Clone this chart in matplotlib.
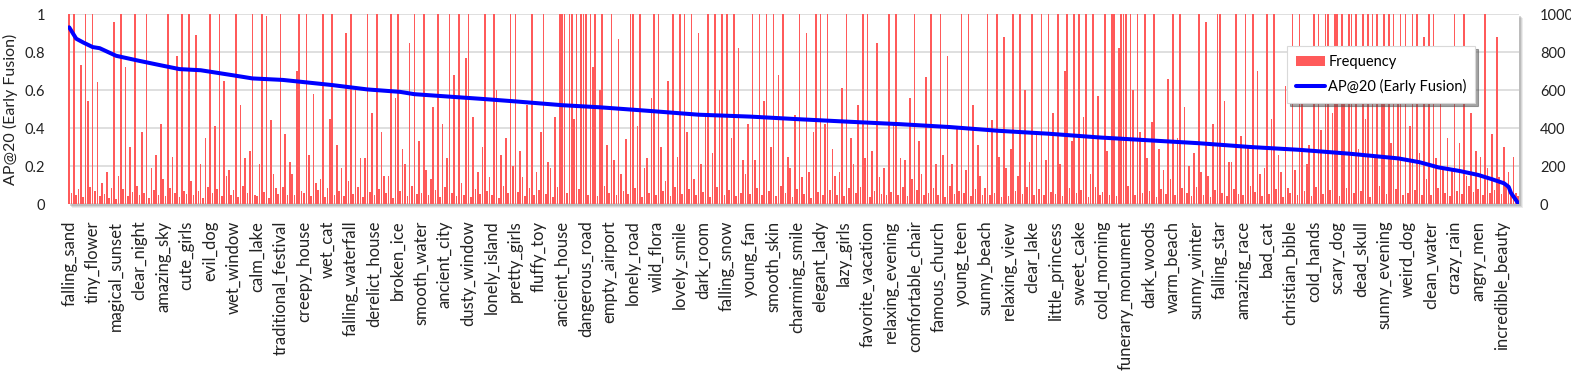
import matplotlib
matplotlib.use("Agg")
import matplotlib.pyplot as plt
from matplotlib.patches import Rectangle
import numpy as np

plt.rcParams['font.family'] = ['Lato', 'DejaVu Sans']

# frequency of each concept (right axis), sorted by AP@20
freq = [
    1400, 60, 1200, 45, 80, 730, 35, 1100, 540, 90,
    1300, 70, 640, 40, 110, 55, 170, 30, 85, 960,
    25, 150, 1250, 80, 720, 40, 300, 65, 1050, 95,
    45, 380, 60, 1150, 30, 190, 75, 260, 50, 420,
    130, 40, 1300, 85, 250, 60, 780, 35, 1020, 70,
    55, 1600, 120, 45, 890, 70, 210, 30, 350, 90,
    1200, 60, 410, 80, 1500, 40, 650, 150, 180, 50,
    75, 1300, 35, 520, 95, 240, 60, 280, 1000, 45,
    40, 210, 1150, 65, 990, 30, 440, 160, 85, 55,
    1100, 90, 370, 50, 220, 160, 45, 700, 1050, 70,
    60, 1300, 260, 40, 580, 110, 75, 130, 1200, 35,
    85, 450, 1100, 50, 310, 70, 190, 40, 900, 120,
    1000, 55, 620, 90, 240, 35, 240, 1300, 65, 480,
    45, 1200, 80, 380, 150, 60, 150, 1400, 30, 560,
    1100, 70, 290, 210, 40, 850, 95, 1000, 55, 330,
    60, 1300, 180, 45, 130, 510, 75, 1200, 35, 420,
    90, 240, 1000, 60, 680, 40, 1350, 110, 50, 770,
    1250, 35, 460, 80, 170, 55, 300, 1000, 70, 140,
    45, 1150, 600, 30, 260, 95, 350, 60, 1050, 200,
    1400, 65, 280, 140, 40, 520, 85, 1200, 50, 170,
    75, 380, 1000, 55, 220, 190, 35, 460, 90, 1150,
    1300, 1200, 60, 1500, 1100, 450, 1350, 80, 1000, 1250,
    1400, 50, 1100, 720, 1300, 40, 600, 1150, 95, 310,
    60, 1050, 230, 45, 870, 160, 70, 340, 55, 1000,
    1300, 85, 410, 1100, 35, 190, 240, 60, 560, 1000,
    45, 1150, 300, 70, 120, 650, 40, 1350, 90, 250,
    1200, 55, 1100, 380, 80, 1300, 130, 45, 900, 210,
    65, 480, 1000, 35, 270, 1150, 90, 600, 1250, 50,
    1100, 75, 350, 1300, 40, 820, 60, 230, 160, 420,
    55, 1200, 230, 85, 1000, 45, 540, 1150, 70, 300,
    1300, 40, 680, 95, 1100, 60, 250, 190, 35, 470,
    80, 1250, 140, 55, 900, 170, 30, 380, 1200, 65,
    1000, 50, 420, 1150, 75, 290, 150, 45, 170, 610,
    40, 1100, 85, 350, 210, 60, 520, 90, 1000, 240,
    1150, 35, 280, 70, 850, 140, 55, 190, 45, 1050,
    65, 420, 1000, 50, 240, 90, 230, 40, 560, 130,
    1250, 75, 330, 160, 45, 670, 60, 1000, 85, 210,
    50, 1150, 260, 35, 780, 95, 210, 55, 400, 70,
    1000, 60, 180, 1200, 40, 520, 80, 310, 150, 45,
    85, 1300, 45, 440, 60, 1050, 250, 35, 880, 190,
    40, 290, 1100, 70, 150, 1250, 55, 600, 90, 220,
    1200, 50, 370, 80, 1000, 45, 230, 1350, 65, 480,
    55, 1100, 210, 40, 700, 1200, 85, 330, 1050, 60,
    1300, 75, 460, 1000, 35, 160, 1150, 90, 570, 45,
    65, 1250, 280, 50, 1100, 1300, 40, 820, 1000, 1200,
    1350, 95, 1100, 600, 45, 1250, 380, 60, 1000, 240,
    70, 430, 1150, 35, 290, 80, 180, 55, 660, 130,
    1000, 45, 350, 1200, 85, 510, 60, 200, 40, 270,
    90, 1300, 170, 50, 960, 150, 35, 420, 75, 1150,
    1100, 60, 540, 40, 220, 220, 80, 1000, 55, 360,
    45, 1200, 300, 95, 1000, 65, 700, 160, 40, 190,
    1150, 55, 450, 1300, 80, 260, 170, 35, 620, 85,
    60, 1100, 180, 45, 1200, 540, 70, 210, 310, 40,
    1300, 90, 1150, 390, 55, 1000, 1250, 75, 480, 1100,
    1200, 40, 1350, 680, 85, 1100, 1000, 60, 1250, 290,
    70, 1150, 450, 1300, 35, 1050, 240, 1200, 95, 560,
    1000, 55, 1250, 320, 1100, 80, 700, 1350, 45, 1050,
    60, 410, 1000, 75, 1200, 270, 50, 880, 130, 1100,
    45, 1300, 240, 85, 560, 190, 60, 350, 40, 190,
    1050, 70, 320, 55, 1200, 150, 95, 480, 65, 280,
    80, 250, 45, 1000, 190, 60, 370, 75, 880, 140,
    55, 300, 90, 170, 45, 250, 60, 40,
]

# AP@20 read at selected concept positions
ap_idx = [0, 1, 3, 6, 10, 13, 20, 30, 39, 47, 56, 70, 78, 91, 98, 112, 127,
          141, 147, 162, 176, 190, 210, 226, 247, 268, 290, 311, 332, 354,
          375, 396, 417, 439, 460, 481, 503, 524, 545, 566, 575, 583, 592,
          600, 606, 611, 613, 614, 617]
ap_val = [0.93, 0.91, 0.87, 0.85, 0.826, 0.82, 0.78, 0.753, 0.73, 0.71, 0.704,
          0.677, 0.661, 0.653, 0.644, 0.626, 0.603, 0.59, 0.578, 0.565, 0.553,
          0.54, 0.52, 0.509, 0.49, 0.47, 0.46, 0.446, 0.433, 0.42, 0.405,
          0.385, 0.37, 0.35, 0.335, 0.32, 0.30, 0.285, 0.265, 0.24, 0.22,
          0.193, 0.174, 0.153, 0.13, 0.109, 0.09, 0.058, 0.005]

tick_labels = [
    "falling_sand", "tiny_flower", "magical_sunset", "clear_night", "amazing_sky",
    "cute_girls", "evil_dog", "wet_window", "calm_lake", "traditional_festival",
    "creepy_house", "wet_cat", "falling_waterfall", "derelict_house", "broken_ice",
    "smooth_water", "ancient_city", "dusty_window", "lonely_island", "pretty_girls",
    "fluffy_toy", "ancient_house", "dangerous_road", "empty_airport", "lonely_road",
    "wild_flora", "lovely_smile", "dark_room", "falling_snow", "young_fan",
    "smooth_skin", "charming_smile", "elegant_lady", "lazy_girls", "favorite_vacation",
    "relaxing_evening", "comfortable_chair", "famous_church", "young_teen", "sunny_beach",
    "relaxing_view", "clear_lake", "little_princess", "sweet_cake", "cold_morning",
    "funerary_monument", "dark_woods", "warm_beach", "sunny_winter", "falling_star",
    "amazing_race", "bad_cat", "christian_bible", "cold_hands", "scary_dog",
    "dead_skull", "sunny_evening", "weird_dog", "clean_water", "crazy_rain",
    "angry_men", "incredible_beauty",
]

W, H = 1571, 380
fig = plt.figure(figsize=(W / 100, H / 100), dpi=100)
l, r, t, b = 68, 1519, 14, 204
rect = [l / W, 1 - b / H, (r - l) / W, (b - t) / H]

# soft shadow behind plot area
for k, a in zip([4, 3, 2], [0.15, 0.2, 0.3]):
    fig.patches.append(Rectangle(((l + k) / W, 1 - (b + k) / H), (r - l) / W, (b - t) / H,
                                 transform=fig.transFigure, color='#808080', alpha=a,
                                 zorder=-1, lw=0))

ax = fig.add_axes(rect)
ax2 = ax.twinx()

x = np.arange(len(freq))
ax.bar(x, freq, width=0.7, color='#FF5A5A', label='Frequency', zorder=2)
ax.set_ylim(0, 1000)
ax.set_xlim(-0.5, len(freq) - 0.6)
ax.set_yticks(range(0, 1001, 200))
ax.grid(axis='y', color='#D9D9D9', lw=1.2, zorder=0)
ax.set_axisbelow(True)
for s in ax.spines.values():
    s.set_visible(False)
ax.set_xticks(range(0, len(tick_labels) * 10, 10))
ax.set_xticklabels(tick_labels, rotation=90, fontsize=12, color='#222222')
ax.tick_params(axis='x', length=0, pad=12)

ax2.plot(ap_idx, ap_val, color='#0000FF', lw=2.9, label='AP@20 (Early Fusion)',
         solid_capstyle='round')
ax2.set_ylim(0, 1)
ax2.set_yticks([0, 0.2, 0.4, 0.6, 0.8, 1])
ax2.set_yticklabels(['0', '0.2', '0.4', '0.6', '0.8', '1'])
ax2.set_ylabel('AP@20 (Early Fusion)', fontsize=11.5, color='#222222', labelpad=5)
for s in ax2.spines.values():
    s.set_visible(False)

# bars' scale on the right, AP scale on the left
ax.yaxis.tick_right()
ax2.yaxis.tick_left()
ax2.yaxis.set_label_position('left')
ax.tick_params(axis='y', which='both', left=False, right=False, labelleft=False,
               labelright=True, labelsize=10.5, labelcolor='#222222', pad=11.5)
ax2.tick_params(axis='y', which='both', left=False, right=False, labelleft=True,
                labelright=False, labelsize=10.5, labelcolor='#222222', pad=13)

h1, l1 = ax.get_legend_handles_labels()
h2, l2 = ax2.get_legend_handles_labels()
leg = ax2.legend(h1 + h2, l1 + l2, loc='upper right', bbox_to_anchor=(0.975, 0.87),
                 fontsize=10.5, frameon=True, fancybox=False, shadow=True,
                 edgecolor='#D9D9D9', framealpha=1, handlelength=2.0,
                 handletextpad=0.2, borderpad=0.6, labelspacing=0.7)
leg.get_frame().set_linewidth(0.8)

fig.savefig('out.png', dpi=100)
